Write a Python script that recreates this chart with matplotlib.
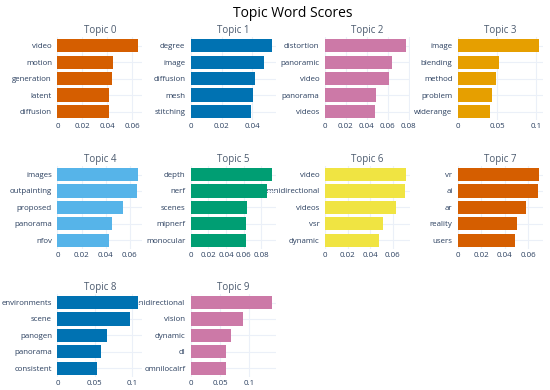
import matplotlib.pyplot as plt

plt.rcParams.update({
    "font.family": ["Open Sans", "DejaVu Sans"],
    "font.size": 6,
})

topics = ["Topic 0", "Topic 1", "Topic 2", "Topic 3", "Topic 4",
          "Topic 5", "Topic 6", "Topic 7", "Topic 8", "Topic 9"]

words = [
    ["video", "motion", "generation", "latent", "diffusion"],
    ["degree", "image", "diffusion", "mesh", "stitching"],
    ["distortion", "panoramic", "video", "panorama", "videos"],
    ["image", "blending", "method", "problem", "widerange"],
    ["images", "outpainting", "proposed", "panorama", "nfov"],
    ["depth", "nerf", "scenes", "mipnerf", "monocular"],
    ["video", "omnidirectional", "videos", "vsr", "dynamic"],
    ["vr", "ai", "ar", "reality", "users"],
    ["environments", "scene", "panogen", "panorama", "consistent"],
    ["omnidirectional", "vision", "dynamic", "dl", "omnilocalrf"],
]

scores = [
    [0.0648, 0.0443, 0.0440, 0.0416, 0.0413],
    [0.0526, 0.0478, 0.0415, 0.0407, 0.0393],
    [0.0774, 0.0640, 0.0614, 0.0486, 0.0480],
    [0.1040, 0.0530, 0.0487, 0.0431, 0.0414],
    [0.0672, 0.0664, 0.0547, 0.0453, 0.0428],
    [0.0922, 0.0869, 0.0636, 0.0629, 0.0629],
    [0.0719, 0.0713, 0.0630, 0.0511, 0.0475],
    [0.0695, 0.0690, 0.0580, 0.0508, 0.0488],
    [0.1090, 0.0982, 0.0662, 0.0590, 0.0532],
    [0.1380, 0.0897, 0.0691, 0.0594, 0.0594],
]

xticks = [
    [0, 0.02, 0.04, 0.06],
    [0, 0.02, 0.04],
    [0, 0.02, 0.04, 0.06, 0.08],
    [0, 0.05, 0.1],
    [0, 0.02, 0.04, 0.06],
    [0, 0.02, 0.04, 0.06, 0.08],
    [0, 0.02, 0.04, 0.06],
    [0, 0.02, 0.04, 0.06],
    [0, 0.05, 0.1],
    [0, 0.05, 0.1],
]

colors = ["#D55E00", "#0072B2", "#CC79A7", "#E69F00", "#56B4E9",
          "#009E73", "#F0E442"]

fig = plt.figure(figsize=(5.5, 3.9), dpi=100)
fig.suptitle("Topic Word Scores", x=0.532, y=0.985, fontsize=10, color="black")

lefts = [0.1045, 0.347, 0.591, 0.833]
bottoms = [0.693, 0.3626, 0.0344]
w, h = 0.1545, 0.211

for i, topic in enumerate(topics):
    row, col = divmod(i, 4)
    ax = fig.add_axes([lefts[col], bottoms[row], w, h])
    # earlier panels sit on top, so long labels slide under the bars on the left
    ax.set_zorder(20 - i)
    ax.patch.set_alpha(0)

    ypos = list(range(len(words[i])))[::-1]
    ax.barh(ypos, scores[i], height=0.8, color=colors[i % len(colors)], zorder=2)

    ax.set_yticks(ypos)
    ax.set_yticklabels(words[i])
    ax.set_ylim(-0.5, 4.5)
    ax.set_xlim(0, max(scores[i]) * 1.05)
    ax.set_xticks(xticks[i])
    ax.set_xticklabels([f"{t:g}" for t in xticks[i]])

    ax.grid(True, color="#EBF0F8", linewidth=0.8, zorder=0)
    ax.set_axisbelow(True)
    for s in ax.spines.values():
        s.set_visible(False)
    ax.tick_params(axis="both", length=0, labelsize=5.7, colors="#2a3f5f")
    ax.tick_params(axis="y", pad=4)
    ax.tick_params(axis="x", pad=2.5)
    ax.set_title(topic, fontsize=7, color="#4b5a6e", pad=3)

fig.savefig("out.png", dpi=100)
